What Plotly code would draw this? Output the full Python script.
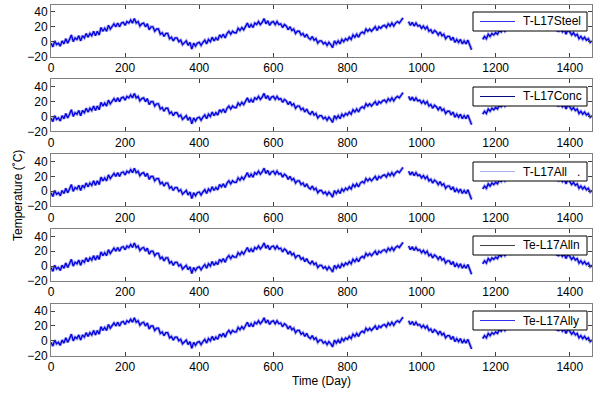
import plotly.graph_objects as go

# ---- data (5-day samples) ----
days = list(range(0, 1461, 5))
temp = [
    -2, -7, 1, -4, -2, -6, 1, -3, 4, -2, 3, 9, 0, 5, 3, 8, 1, 8, 5, 11,
    6, 11, 8, 14, 8, 14, 9, 19, 14, 18, 14, 22, 17, 21, 24, 20, 25, 20, 25, 26,
    22, 27, 25, 29, 25, 31, 25, 27, 21, 24, 25, 20, 24, 16, 20, 20, 14, 17, 17, 10,
    12, 7, 11, 11, 4, 6, 1, 5, 5, 0, 2, -4, -1, 1, -5, -1, -10, -2, -6, -2,
    -1, -5, -1, 2, -3, 3, 0, 6, 1, 5, 2, 9, 6, 10, 5, 11, 14, 10, 14, 12,
    12, 18, 15, 19, 16, 21, 25, 19, 23, 19, 25, 23, 27, 23, 26, 31, 24, 28, 22, 26,
    27, 23, 27, 23, 24, 19, 23, 21, 16, 20, 15, 17, 11, 14, 14, 9, 11, 6, 10, 5,
    3, 7, 2, 4, -2, 1, 1, -3, -1, -5, -1, -4, -8, 1, -3, 1, -3, 3, 0, 4,
    2, 6, 3, 9, 6, 10, 6, 11, 13, 11, 17, 14, 17, 14, 17, 20, 15, 20, 18, 21,
    22, 19, 24, 21, 25, 21, 25, 27, 25, 29, 32, None, None, 27, 22, 26, 21, 25, 21, 22,
    18, 21, 17, 20, 14, 16, 11, 15, 13, 9, 13, 8, 10, 4, 7, 7, 2, 6, -1, 3,
    -1, 3, -3, 1, -3, 2, -5, -11, None, None, None, None, None, 3, 7, 4, 10, 7, 11, 9,
    12, 10, 15, 13, 18, 14, 18, 20, 17, 21, 23, 20, 24, 21, 24, 27, 22, 26, 24, 28,
    24, 27, 27, 23, 27, 23, 24, 19, 23, 19, 21, 16, 20, 15, 14, 17, 13, 16, 10, 16,
    13, 9, 12, 8, 10, 4, 7, 3, 6, 2, 4, -1, 1,
]
series_names = ["T-L17Steel", "T-L17Conc", "T-L17All   .", "Te-L17Alln", "Te-L17Ally"]
legend_colors = ["#3030f0", "#0a0a80", "#b0b0e8", "#404040", "#3030f0"]
x_ticks = [0, 200, 400, 600, 800, 1000, 1200, 1400]
y_ticks = [-20, 0, 20, 40]

W, H = 600, 393
x0, x1 = 51, 592
top0, pitch, ph = 4.5, 74.8, 52

fig = go.Figure()
font = dict(family="Arial, Liberation Sans, sans-serif", size=12, color="black")

def px(xp):
    return xp / W

def py(yp):
    return (H - yp) / H

for i, name in enumerate(series_names):
    ax = "" if i == 0 else str(i + 1)
    # soft fringe under the line (the dense daily record looks smeared)
    fig.add_trace(go.Scatter(x=days, y=temp, mode="lines", name=name,
                             line=dict(color="#a8a8ec", width=3),
                             xaxis="x" + ax, yaxis="y" + ax, showlegend=False,
                             connectgaps=False, hoverinfo="skip"))
    fig.add_trace(go.Scatter(x=days, y=temp, mode="lines", name=name,
                             line=dict(color="#0000e0", width=1.3),
                             xaxis="x" + ax, yaxis="y" + ax, showlegend=False,
                             connectgaps=False))
    top = top0 + pitch * i
    bot = top + ph
    common = dict(showgrid=False, zeroline=False, ticks="inside", ticklen=4,
                  tickcolor="#404040", showline=True, linecolor="#808080",
                  linewidth=1, mirror="ticks", tickfont=font, automargin=False)
    fig.update_layout(**{
        "xaxis" + ax: dict(domain=[px(x0), px(x1)], range=[0, 1460],
                           tickvals=x_ticks, anchor="y" + ax, **common),
        "yaxis" + ax: dict(domain=[py(bot), py(top)], range=[-20, 50],
                           tickvals=y_ticks, anchor="x" + ax, **common),
    })
    # legend box (drawn like the MATLAB legend)
    lt = round(12 + pitch * i)
    lb = lt + 19
    mid = lt + 9.5
    fig.add_shape(type="rect", xref="paper", yref="paper",
                  x0=px(473), x1=px(587), y0=py(lb), y1=py(lt),
                  fillcolor="white", line=dict(color="black", width=1), layer="above")
    fig.add_shape(type="line", xref="paper", yref="paper",
                  x0=px(480), x1=px(515), y0=py(mid), y1=py(mid),
                  line=dict(color=legend_colors[i], width=1.2), layer="above")
    fig.add_annotation(text=name, x=px(521), y=py(mid), xref="paper",
                       yref="paper", showarrow=False, font=font,
                       xanchor="left", yanchor="middle")

fig.add_annotation(text="Temperature (˚C)", x=px(18), y=py(196),
                   xref="paper", yref="paper", textangle=-90, showarrow=False,
                   font=font, xanchor="center", yanchor="middle")
fig.add_annotation(text="Time (Day)", x=px(321), y=py(381),
                   xref="paper", yref="paper", showarrow=False,
                   font=font, xanchor="center", yanchor="middle")

fig.update_layout(width=W, height=H, margin=dict(l=0, r=0, t=0, b=0),
                  paper_bgcolor="white", plot_bgcolor="white", showlegend=False)
fig.write_html("out.html", config={"displayModeBar": False},
               post_script="document.body.style.margin='0px';")
